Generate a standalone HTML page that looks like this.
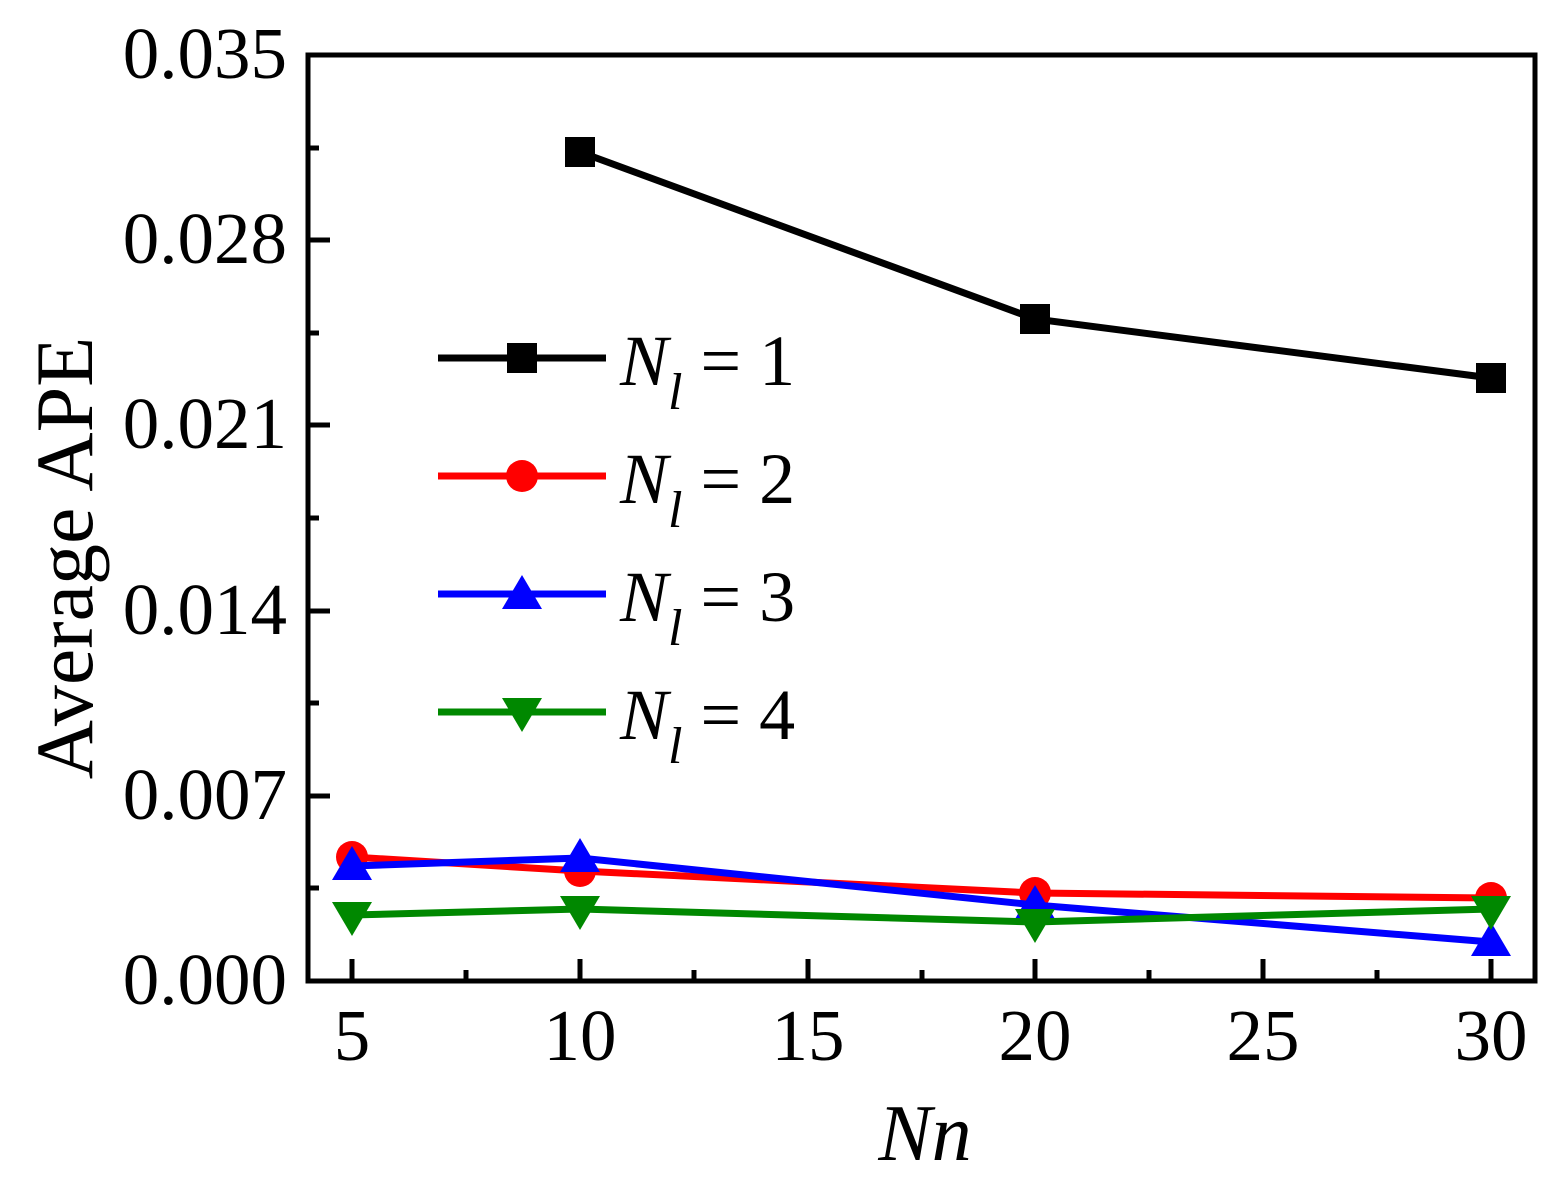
<!DOCTYPE html>
<html><head><style>body{margin:0;background:#fff}svg{display:block}</style></head><body>
<svg width="1568" height="1192" xmlns="http://www.w3.org/2000/svg" font-family="Liberation Serif, serif">
<rect x="308" y="55" width="1227" height="926" fill="none" stroke="#000" stroke-width="5"/>
<g stroke="#000" stroke-width="5">
<line x1="352" y1="981" x2="352" y2="959"/><line x1="580" y1="981" x2="580" y2="959"/><line x1="808" y1="981" x2="808" y2="959"/><line x1="1035" y1="981" x2="1035" y2="959"/><line x1="1263" y1="981" x2="1263" y2="959"/><line x1="1491" y1="981" x2="1491" y2="959"/>
<line x1="466" y1="981" x2="466" y2="970"/><line x1="694" y1="981" x2="694" y2="970"/><line x1="922" y1="981" x2="922" y2="970"/><line x1="1149" y1="981" x2="1149" y2="970"/><line x1="1377" y1="981" x2="1377" y2="970"/>
<line x1="308" y1="796" x2="330" y2="796"/><line x1="308" y1="611" x2="330" y2="611"/><line x1="308" y1="425" x2="330" y2="425"/><line x1="308" y1="240" x2="330" y2="240"/>
<line x1="308" y1="888" x2="319" y2="888"/><line x1="308" y1="703" x2="319" y2="703"/><line x1="308" y1="518" x2="319" y2="518"/><line x1="308" y1="333" x2="319" y2="333"/><line x1="308" y1="148" x2="319" y2="148"/>
</g>
<g font-size="73" text-anchor="end">
<text x="287" y="1004">0.000</text><text x="287" y="819">0.007</text><text x="287" y="634">0.014</text><text x="287" y="448">0.021</text><text x="287" y="263">0.028</text><text x="287" y="78">0.035</text>
</g>
<g font-size="73" text-anchor="middle">
<text x="352" y="1060">5</text><text x="580" y="1060">10</text><text x="808" y="1060">15</text><text x="1035" y="1060">20</text><text x="1263" y="1060">25</text><text x="1491" y="1060">30</text>
<text x="925" y="1160" font-style="italic" font-size="80">Nn</text>
<text transform="translate(92,558) rotate(-90)" font-size="82">Average APE</text>
</g>
<polyline points="580,152 1035,319 1491,378" fill="none" stroke="#000" stroke-width="7"/>
<g fill="#000"><rect x="565" y="137" width="30" height="30"/><rect x="1020" y="304" width="30" height="30"/><rect x="1476" y="363" width="30" height="30"/></g>
<polyline points="352,857 580,871 1035,893 1491,898" fill="none" stroke="#f00" stroke-width="7"/>
<g fill="#f00"><circle cx="352" cy="857" r="16"/><circle cx="580" cy="871" r="16"/><circle cx="1035" cy="893" r="16"/><circle cx="1491" cy="898" r="16"/></g>
<polyline points="352,866 580,858 1035,905 1491,942" fill="none" stroke="#00f" stroke-width="7"/>
<g fill="#00f"><path d="M352,846 l20,34 h-40z"/><path d="M580,838 l20,34 h-40z"/><path d="M1035,885 l20,34 h-40z"/><path d="M1491,922 l20,34 h-40z"/></g>
<polyline points="352,915 580,909 1035,922 1491,909" fill="none" stroke="#080" stroke-width="7"/>
<g fill="#080"><path d="M352,936 l20,-34 h-40z"/><path d="M580,930 l20,-34 h-40z"/><path d="M1035,943 l20,-34 h-40z"/><path d="M1491,930 l20,-34 h-40z"/></g>
<g stroke-width="7">
<line x1="438" y1="358" x2="606" y2="358" stroke="#000"/><rect x="507" y="343" width="30" height="30" fill="#000"/>
<line x1="438" y1="476" x2="606" y2="476" stroke="#f00"/><circle cx="522" cy="476" r="16" fill="#f00"/>
<line x1="438" y1="594" x2="606" y2="594" stroke="#00f"/><path d="M522,575 l20,34 h-40z" fill="#00f"/>
<line x1="438" y1="712" x2="606" y2="712" stroke="#080"/><path d="M522,732 l20,-34 h-40z" fill="#080"/>
</g>
<g font-size="72">
<text x="620" y="385"><tspan font-style="italic">N</tspan><tspan font-style="italic" font-size="52" dy="24">l</tspan><tspan dy="-24"> = 1</tspan></text>
<text x="620" y="503"><tspan font-style="italic">N</tspan><tspan font-style="italic" font-size="52" dy="24">l</tspan><tspan dy="-24"> = 2</tspan></text>
<text x="620" y="621"><tspan font-style="italic">N</tspan><tspan font-style="italic" font-size="52" dy="24">l</tspan><tspan dy="-24"> = 3</tspan></text>
<text x="620" y="739"><tspan font-style="italic">N</tspan><tspan font-style="italic" font-size="52" dy="24">l</tspan><tspan dy="-24"> = 4</tspan></text>
</g>
</svg>
</body></html>
